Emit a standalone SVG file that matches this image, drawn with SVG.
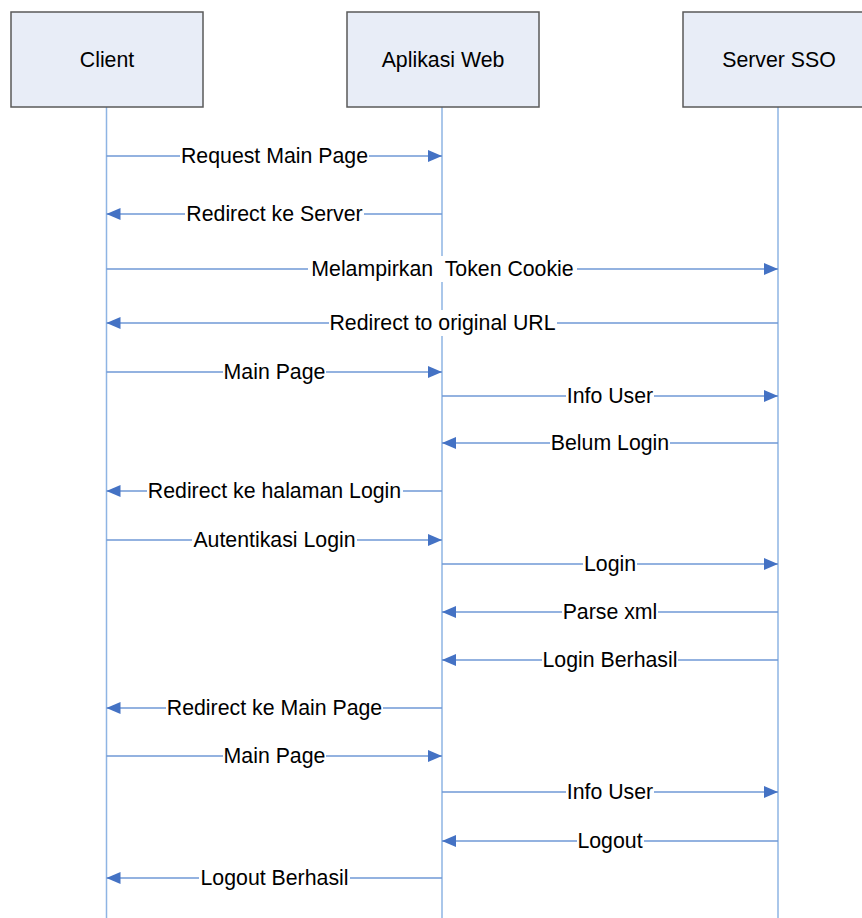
<svg xmlns="http://www.w3.org/2000/svg" width="862" height="918" viewBox="0 0 862 918">
<defs>
<marker id="ah" markerUnits="userSpaceOnUse" markerWidth="14" markerHeight="12" refX="14" refY="6" orient="auto">
<path d="M0,0 L14,6 L0,12 z" fill="#4472c4"/>
</marker>
<style>
.box{fill:#e8edf7;stroke:#5a5a5a;stroke-width:1.5}
.life{stroke:#8eb4e3;stroke-width:1.5;fill:none}
.msg{stroke:#6f98d6;stroke-width:1.3;fill:none;marker-end:url(#ah)}
.bg{fill:#ffffff}
text{font-family:"Liberation Sans",Arial,sans-serif;font-size:21.3px;fill:#000;text-anchor:middle}
</style>
</defs>
<rect width="862" height="918" fill="#ffffff"/>
<g id="lifelines">
<line class="life" x1="106.5" y1="107" x2="106.5" y2="918"/>
<line class="life" x1="442" y1="107" x2="442" y2="918"/>
<line class="life" x1="778" y1="107" x2="778" y2="918"/>
</g>
<g id="client"><rect class="box" x="11" y="12" width="192" height="95"/><text x="107" y="66.5">Client</text></g>
<g id="web"><rect class="box" x="347" y="12" width="192" height="95"/><text x="443" y="66.5">Aplikasi Web</text></g>
<g id="sso"><rect class="box" x="683" y="12" width="192" height="95"/><text x="779" y="66.5">Server SSO</text></g>
<g id="connectors">
<line class="msg" x1="106.5" y1="156" x2="442" y2="156"/>
<line class="msg" x1="442" y1="214" x2="106.5" y2="214"/>
<line class="msg" x1="106.5" y1="269" x2="778" y2="269"/>
<line class="msg" x1="778" y1="323" x2="106.5" y2="323"/>
<line class="msg" x1="106.5" y1="372" x2="442" y2="372"/>
<line class="msg" x1="442" y1="396" x2="778" y2="396"/>
<line class="msg" x1="778" y1="443" x2="442" y2="443"/>
<line class="msg" x1="442" y1="491" x2="106.5" y2="491"/>
<line class="msg" x1="106.5" y1="540" x2="442" y2="540"/>
<line class="msg" x1="442" y1="564" x2="778" y2="564"/>
<line class="msg" x1="778" y1="612" x2="442" y2="612"/>
<line class="msg" x1="778" y1="660" x2="442" y2="660"/>
<line class="msg" x1="442" y1="708" x2="106.5" y2="708"/>
<line class="msg" x1="106.5" y1="756" x2="442" y2="756"/>
<line class="msg" x1="442" y1="792" x2="778" y2="792"/>
<line class="msg" x1="778" y1="841" x2="442" y2="841"/>
<line class="msg" x1="442" y1="878" x2="106.5" y2="878"/>
</g>
<g id="labels">
<rect class="bg" x="180" y="145" width="189" height="22"/><text x="274.5" y="163">Request Main Page</text>
<rect class="bg" x="185" y="203" width="179" height="22"/><text x="274.5" y="221">Redirect ke Server</text>
<rect class="bg" x="308" y="256" width="269" height="26"/><text x="442.5" y="276" xml:space="preserve">Melampirkan  Token Cookie</text>
<rect class="bg" x="329" y="310" width="228" height="26"/><text x="442.5" y="330">Redirect to original URL</text>
<rect class="bg" x="223" y="361" width="103" height="22"/><text x="274.5" y="379">Main Page</text>
<rect class="bg" x="566" y="385" width="88" height="22"/><text x="610" y="403">Info User</text>
<rect class="bg" x="550" y="432" width="120" height="22"/><text x="610" y="450">Belum Login</text>
<rect class="bg" x="147" y="480" width="256" height="22"/><text x="274.5" y="498">Redirect ke halaman Login</text>
<rect class="bg" x="192" y="529" width="165" height="22"/><text x="274.5" y="547">Autentikasi Login</text>
<rect class="bg" x="583" y="553" width="54" height="22"/><text x="610" y="571">Login</text>
<rect class="bg" x="562" y="601" width="96" height="22"/><text x="610" y="619">Parse xml</text>
<rect class="bg" x="542" y="649" width="136" height="22"/><text x="610" y="667">Login Berhasil</text>
<rect class="bg" x="166" y="697" width="217" height="22"/><text x="274.5" y="715">Redirect ke Main Page</text>
<rect class="bg" x="223" y="745" width="103" height="22"/><text x="274.5" y="763">Main Page</text>
<rect class="bg" x="566" y="781" width="88" height="22"/><text x="610" y="799">Info User</text>
<rect class="bg" x="577" y="830" width="67" height="22"/><text x="610" y="848">Logout</text>
<rect class="bg" x="199" y="867" width="151" height="22"/><text x="274.5" y="885">Logout Berhasil</text>
</g>
</svg>
